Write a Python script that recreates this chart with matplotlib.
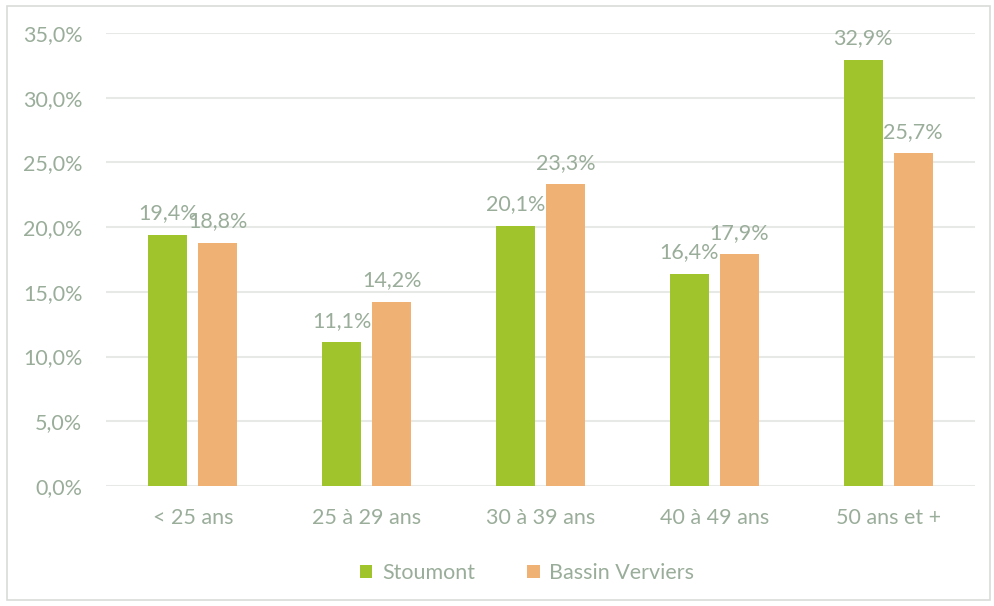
import matplotlib
matplotlib.use("Agg")
import matplotlib.pyplot as plt
from matplotlib.patches import Rectangle
import numpy as np

categories = ["< 25 ans", "25 à 29 ans", "30 à 39 ans", "40 à 49 ans", "50 ans et +"]
stoumont = [19.4, 11.1, 20.1, 16.4, 32.9]
bassin = [18.8, 14.2, 23.3, 17.9, 25.7]
series_names = ["Stoumont", "Bassin Verviers"]
yticks = [0, 5, 10, 15, 20, 25, 30, 35]

green = "#A0C42C"
orange = "#F0B274"
txt = "#9AAD9A"
grid = "#E6E9E6"
fs = 15.5

plt.rcParams['font.family'] = ['Lato', 'DejaVu Sans']

fig = plt.figure(figsize=(9.95, 6.06), dpi=100)
ax = fig.add_axes([106/995, 1-486/606, (975-106)/995, (486-33)/606])

fig.patches.append(Rectangle((7/995, 6/606), 983/995, 594/606, transform=fig.transFigure,
                             fill=False, edgecolor="#D9DCD9", linewidth=1.2))

x = np.arange(len(categories))
w = 0.225
off = 0.144
b1 = ax.bar(x - off, stoumont, w, color=green, label=series_names[0])
b2 = ax.bar(x + off, bassin, w, color=orange, label=series_names[1])

def fmt(v):
    return f"{v:.1f}%".replace(".", ",")

for bars, vals in ((b1, stoumont), (b2, bassin)):
    for r, v in zip(bars, vals):
        ax.text(r.get_x() + r.get_width()/2, v + 0.9, fmt(v), ha="center", va="bottom",
                color=txt, fontsize=fs)

ax.set_xlim(-0.5, len(categories) - 0.5)
ax.set_ylim(0, 35)
ax.set_yticks(yticks)
ax.set_yticklabels([fmt(t) for t in yticks])
ax.set_xticks(x)
ax.set_xticklabels(categories)
ax.tick_params(axis="both", length=0, colors=txt, labelsize=fs)
ax.tick_params(axis="y", pad=17)
ax.tick_params(axis="x", pad=16)
for s in ax.spines.values():
    s.set_visible(False)
ax.yaxis.grid(True, color=grid, linewidth=1.5)
ax.set_axisbelow(True)

leg = fig.legend(handles=[b1, b2], loc="center", bbox_to_anchor=(527/995, 1-573/606), ncol=2,
                 frameon=False, fontsize=fs, handlelength=0.6, handleheight=0.6,
                 handletextpad=0.45, columnspacing=2.4)
for t in leg.get_texts():
    t.set_color(txt)

fig.savefig("out.png", dpi=100)
